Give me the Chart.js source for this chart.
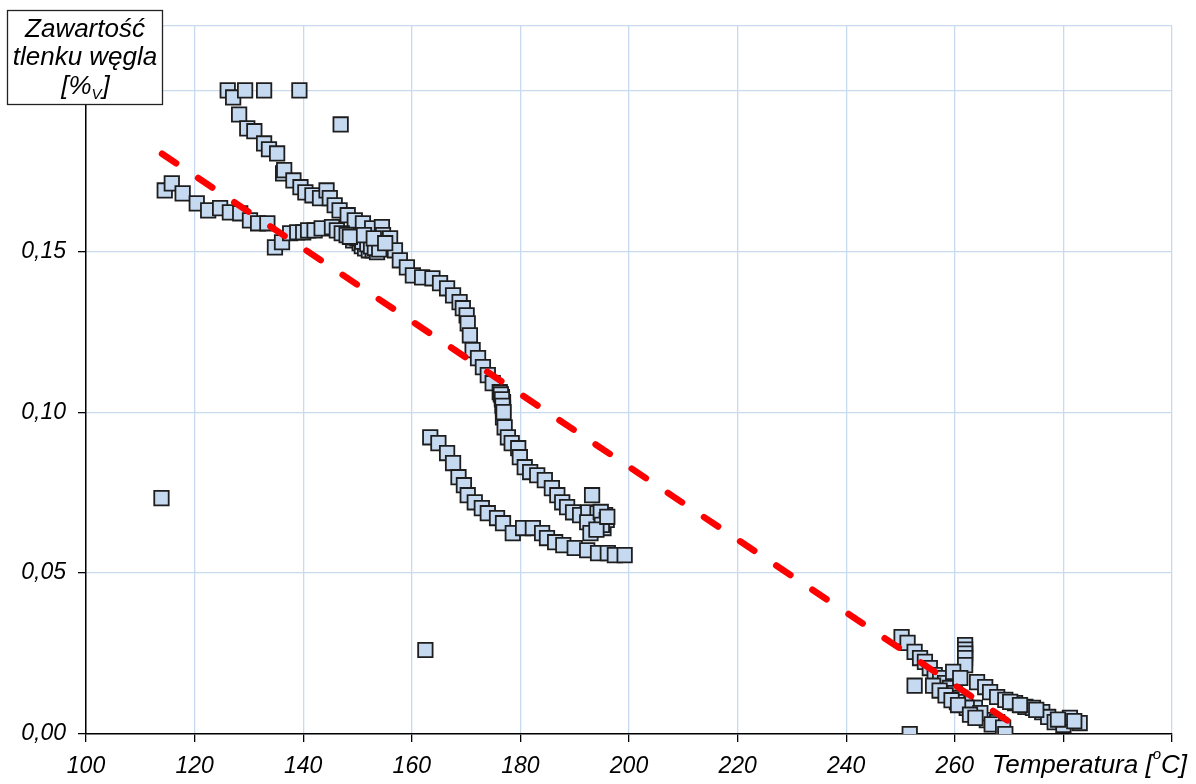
<!DOCTYPE html>
<html>
<head>
<meta charset="utf-8">
<title>Zawartość tlenku węgla</title>
<script src="https://cdn.jsdelivr.net/npm/chart.js@4.4.1/dist/chart.umd.min.js"></script>
<style>
  html, body { margin: 0; padding: 0; background: #fff; }
  #wrap { width: 1196px; height: 784px; }
</style>
</head>
<body>
<div id="wrap"><canvas id="coChart" width="1196" height="784"></canvas></div>
<script>
// measurements: temperature [°C] and CO content [%V]
const tempC = [
    126.1, 127.1, 129.3, 132.8, 139.3, 146.9,
    128.2, 129.7, 131.0, 132.8, 133.7, 135.2, 136.3, 136.5, 138.2, 139.5,
    140.4, 141.7, 143.1, 144.3, 144.9, 145.8, 146.7, 148.2, 149.5, 151.0,
    152.7, 154.5, 154.7, 156.0, 156.9, 157.8, 159.1, 160.2, 161.9, 163.8,
    165.2, 166.5, 167.6, 168.8, 169.4, 170.1, 170.3, 170.7, 171.2, 172.2,
    173.1, 174.0, 174.9, 176.2, 176.6, 176.8, 176.8, 176.8, 177.1, 177.7,
    178.4, 179.6, 179.9, 180.8, 181.8, 183.1, 184.5, 185.8, 186.8, 187.7,
    188.6, 189.7, 191.0, 192.5, 194.2, 195.6, 195.6, 195.3, 193.4, 192.3,
    192.9, 193.2,
    176.4, 176.6, 176.7, 176.9, 194.8, 195.9, 195.0, 194.0, 196.0,
    114.5, 115.8, 117.8, 120.4, 122.5, 124.7, 126.5, 128.4, 130.2, 131.7,
    133.4, 134.8, 136.1, 137.6, 138.9, 140.0, 140.9, 142.1, 143.4, 145.3,
    146.2, 147.1, 148.0, 149.2, 149.5, 150.4, 150.8, 151.4, 152.1, 152.8,
    153.6,
    150.0, 150.9, 151.8, 152.5, 153.2, 154.0, 148.6, 151.2, 153.0, 155.1,
    113.9, 162.5,
    163.4, 164.9, 166.5, 167.6, 168.6, 169.6, 170.3, 171.6, 172.9, 174.0,
    175.7, 176.8, 178.6, 180.5, 182.3, 184.0, 184.9, 186.4, 187.9, 190.0,
    192.3, 194.3, 196.1, 197.4, 199.2,
    250.2, 251.3, 252.6, 253.6, 254.5, 255.4, 256.3, 257.3, 258.2, 259.1,
    260.0, 261.0, 261.9, 263.2, 261.9, 261.9, 261.9, 261.9, 261.9, 259.7,
    261.0, 264.1, 265.6, 266.5, 267.8, 269.3, 271.1, 273.0, 274.4, 276.1,
    277.2, 278.4, 280.0, 281.2, 283.0, 263.7, 265.9, 260.4, 262.2, 264.7,
    267.8,
    256.0, 257.2, 258.3, 259.4, 260.6, 262.8, 263.8, 266.8, 268.9,
    270.2, 272.0, 275.0, 279.0, 282.0,
    252.6, 251.7, 269.3
];
const coPct = [
    0.2000, 0.1978, 0.2000, 0.2000, 0.2000, 0.1894,
    0.1925, 0.1882, 0.1873, 0.1835, 0.1817, 0.1804, 0.1742, 0.1752, 0.1720, 0.1699,
    0.1683, 0.1674, 0.1665, 0.1689, 0.1665, 0.1643, 0.1627, 0.1612, 0.1596, 0.1587,
    0.1571, 0.1575, 0.1550, 0.1540, 0.1503, 0.1472, 0.1450, 0.1425, 0.1419, 0.1416,
    0.1401, 0.1385, 0.1363, 0.1342, 0.1323, 0.1301, 0.1276, 0.1239, 0.1193, 0.1168,
    0.1140, 0.1115, 0.1090, 0.1062, 0.1047, 0.1031, 0.1012, 0.0984, 0.0953, 0.0922,
    0.0904, 0.0888, 0.0860, 0.0829, 0.0814, 0.0804, 0.0789, 0.0764, 0.0742, 0.0720,
    0.0705, 0.0689, 0.0680, 0.0689, 0.0686, 0.0680, 0.0671, 0.0640, 0.0643, 0.0658,
    0.0624, 0.0742,
    0.1055, 0.1040, 0.1020, 0.1000, 0.0690, 0.0665, 0.0650, 0.0635, 0.0675,
    0.1689, 0.1711, 0.1680, 0.1649, 0.1627, 0.1634, 0.1621, 0.1618, 0.1596, 0.1587,
    0.1587, 0.1512, 0.1528, 0.1556, 0.1559, 0.1559, 0.1565, 0.1565, 0.1571, 0.1575,
    0.1565, 0.1556, 0.1550, 0.1534, 0.1543, 0.1525, 0.1516, 0.1509, 0.1503, 0.1503,
    0.1497,
    0.1540, 0.1530, 0.1522, 0.1515, 0.1510, 0.1506, 0.1545, 0.1550, 0.1540, 0.1525,
    0.0733, 0.0261,
    0.0922, 0.0904, 0.0873, 0.0842, 0.0798, 0.0773, 0.0742, 0.0720, 0.0702, 0.0686,
    0.0671, 0.0655, 0.0624, 0.0640, 0.0640, 0.0624, 0.0609, 0.0596, 0.0587, 0.0578,
    0.0571, 0.0562, 0.0562, 0.0556, 0.0556,
    0.0301, 0.0283, 0.0255, 0.0236, 0.0224, 0.0205, 0.0183, 0.0174, 0.0158, 0.0143,
    0.0127, 0.0112, 0.0096, 0.0081, 0.0276, 0.0262, 0.0250, 0.0236, 0.0214, 0.0193,
    0.0174, 0.0161, 0.0146, 0.0130, 0.0115, 0.0106, 0.0096, 0.0084, 0.0081, 0.0068,
    0.0053, 0.0037, 0.0028, 0.0050, 0.0034, 0.0081, 0.0043, 0.0099, 0.0081, 0.0065,
    0.0037,
    0.0150, 0.0135, 0.0120, 0.0105, 0.0090, 0.0060, 0.0050, 0.0030, 0.0020,
    0.0100, 0.0090, 0.0075, 0.0045, 0.0040,
    0.0150, 0.0000, 0.0000
];

// linear trend (red dashed)
const trendTemp = [114.0, 273.4];
const trendCo = [0.1803, 0.0];

// axis ticks and their labels
const xTicks = [100, 120, 140, 160, 180, 200, 220, 240, 260, 280, 300];
const xLabels = ['100', '120', '140', '160', '180', '200', '220', '240', '260', '', ''];
const yTicks = [0, 0.05, 0.10, 0.15, 0.20, 0.22];
const yLabels = ['0,00', '0,05', '0,10', '0,15', '', ''];

const FONT = '"Liberation Sans", Arial, sans-serif';
const GRID = '#c8daf0';

// axis titles: boxed one top-left, temperature one bottom-right
const axisTitles = {
    id: 'axisTitles',
    afterDraw(chart) {
        const ctx = chart.ctx;
        ctx.save();
        ctx.fillStyle = '#fff';
        ctx.fillRect(7, 10, 156, 95);
        ctx.strokeStyle = '#222';
        ctx.lineWidth = 1.3;
        ctx.strokeRect(7.5, 10.5, 155, 94);

        ctx.fillStyle = '#000';
        ctx.textBaseline = 'alphabetic';
        ctx.textAlign = 'center';
        const big = 'italic 26px ' + FONT, small = 'italic 15px ' + FONT;
        ctx.font = big;
        ctx.fillText('Zawartość', 85, 37);
        ctx.fillText('tlenku węgla', 85, 65);

        // [%V] with subscript
        ctx.textAlign = 'left';
        ctx.font = big;
        const w1 = ctx.measureText('[%').width;
        const w3 = ctx.measureText(']').width;
        ctx.font = small;
        const w2 = ctx.measureText('V').width;
        let x = 85 - (w1 + w2 + w3) / 2;
        ctx.font = big;
        ctx.fillText('[%', x, 94);
        x += w1;
        ctx.font = small;
        ctx.fillText('V', x, 99);
        x += w2 + 1;
        ctx.font = big;
        ctx.fillText(']', x, 94);

        // Temperatura [oC] with superscript
        ctx.font = big;
        const a = ctx.measureText('Temperatura [').width;
        const c = ctx.measureText('C]').width;
        ctx.font = small;
        const b = ctx.measureText('o').width;
        x = 1187 - (a + b + c);
        ctx.font = big;
        ctx.fillText('Temperatura [', x, 773);
        x += a;
        ctx.font = small;
        ctx.fillText('o', x, 759);
        x += b;
        ctx.font = big;
        ctx.fillText('C]', x, 773);
        ctx.restore();
    }
};

const points = tempC.map((t, i) => ({ x: t, y: coPct[i] }));
const trend = trendTemp.map((t, i) => ({ x: t, y: trendCo[i] }));

new Chart(document.getElementById('coChart').getContext('2d'), {
    type: 'scatter',
    data: {
        datasets: [
            {
                label: 'trend',
                data: trend,
                showLine: true,
                borderColor: '#ff0000',
                borderWidth: 6.5,
                borderDash: [17, 26.5],
                borderCapStyle: 'round',
                pointRadius: 0,
                fill: false,
                order: 0
            },
            {
                label: 'CO',
                data: points,
                pointStyle: 'rect',
                pointRadius: 10.2,
                pointBackgroundColor: '#c5d9f1',
                pointBorderColor: '#1e1e1e',
                pointBorderWidth: 1.8,
                showLine: false,
                order: 1
            }
        ]
    },
    options: {
        responsive: false,
        animation: false,
        events: [],
        layout: { padding: { top: 26, right: 24, left: 0, bottom: 0 } },
        plugins: { legend: { display: false }, tooltip: { enabled: false } },
        scales: {
            x: {
                type: 'linear',
                position: 'bottom',
                min: 100,
                max: 300,
                afterBuildTicks: scale => { scale.ticks = xTicks.map(v => ({ value: v })); },
                afterFit: scale => { scale.height = 50; scale.paddingLeft = 0; scale.paddingRight = 0; },
                ticks: {
                    autoSkip: false,
                    maxRotation: 0,
                    padding: 11,
                    color: '#000',
                    font: { family: FONT, size: 23, style: 'italic' },
                    callback: (value, index) => xLabels[index]
                },
                grid: { color: GRID, lineWidth: 1.3, tickColor: '#000', tickLength: 8, tickWidth: 1.3 },
                border: { color: '#000', width: 1.5 }
            },
            y: {
                type: 'linear',
                position: 'left',
                min: 0,
                max: 0.22,
                afterBuildTicks: scale => { scale.ticks = yTicks.map(v => ({ value: v })); },
                afterFit: scale => { scale.width = 86; scale.paddingTop = 0; scale.paddingBottom = 0; },
                ticks: {
                    autoSkip: false,
                    padding: 12,
                    color: '#000',
                    font: { family: FONT, size: 23, style: 'italic' },
                    callback: (value, index) => yLabels[index]
                },
                grid: { color: GRID, lineWidth: 1.3, tickColor: '#000', tickLength: 8, tickWidth: 1.3 },
                border: { color: '#000', width: 1.5 }
            }
        }
    },
    plugins: [axisTitles]
});
</script>
</body>
</html>
